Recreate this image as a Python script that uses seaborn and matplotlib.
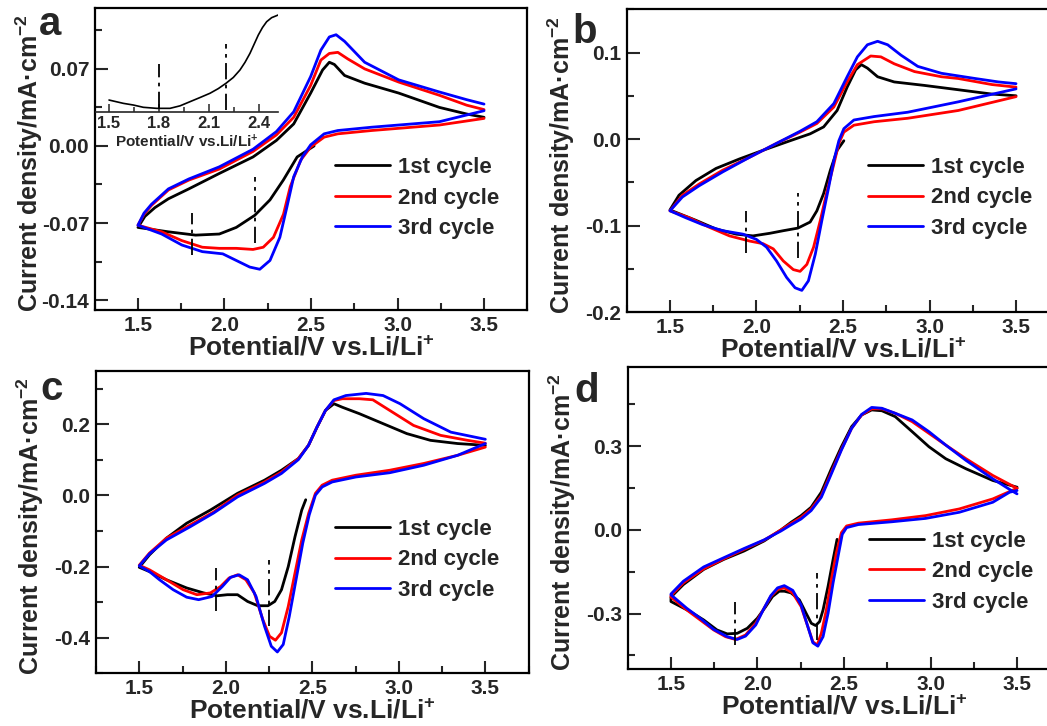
import matplotlib
matplotlib.use("Agg")
import matplotlib.pyplot as plt
import seaborn as sns
from matplotlib.ticker import MultipleLocator, FormatStrFormatter

# ---------------- data ----------------
cycle_labels = ["1st cycle", "2nd cycle", "3rd cycle"]
cycle_colors = ["#000000", "#ff0000", "#0000ff"]

# panel a
a_c1_v = [2.518, 2.42, 2.34, 2.263, 2.175, 2.068, 1.97, 1.833, 1.676, 1.5, 1.54, 1.598, 1.676, 1.794, 1.97, 2.165, 2.30, 2.40, 2.498, 2.567, 2.606, 2.635, 2.694, 2.81, 3.007, 3.242, 3.40, 3.5]
a_c1_i = [0.0, -0.010, -0.031, -0.049, -0.063, -0.074, -0.080, -0.081, -0.078, -0.074, -0.064, -0.056, -0.048, -0.039, -0.025, -0.010, 0.005, 0.020, 0.048, 0.069, 0.076, 0.074, 0.064, 0.057, 0.048, 0.035, 0.029, 0.026]
a_c2_v = [3.5, 3.242, 2.85, 2.655, 2.576, 2.498, 2.44, 2.38, 2.341, 2.283, 2.224, 2.165, 2.068, 1.97, 1.872, 1.754, 1.637, 1.5, 1.535, 1.578, 1.676, 1.794, 1.97, 2.165, 2.30, 2.40, 2.498, 2.557, 2.606, 2.655, 2.713, 2.81, 3.007, 3.242, 3.40, 3.5]
a_c2_i = [0.025, 0.019, 0.014, 0.011, 0.008, -0.001, -0.013, -0.037, -0.062, -0.083, -0.092, -0.094, -0.093, -0.093, -0.092, -0.086, -0.078, -0.072, -0.062, -0.054, -0.040, -0.031, -0.021, -0.005, 0.010, 0.026, 0.055, 0.078, 0.084, 0.085, 0.079, 0.070, 0.058, 0.046, 0.037, 0.033]
a_c3_v = [3.5, 3.242, 2.85, 2.655, 2.576, 2.498, 2.45, 2.40, 2.36, 2.32, 2.263, 2.204, 2.146, 2.068, 1.99, 1.872, 1.754, 1.637, 1.5, 1.535, 1.578, 1.676, 1.794, 1.97, 2.165, 2.30, 2.40, 2.498, 2.557, 2.606, 2.645, 2.694, 2.81, 3.007, 3.242, 3.40, 3.5]
a_c3_i = [0.032, 0.022, 0.017, 0.014, 0.011, 0.001, -0.010, -0.028, -0.056, -0.083, -0.104, -0.112, -0.110, -0.104, -0.098, -0.096, -0.090, -0.080, -0.072, -0.061, -0.053, -0.039, -0.030, -0.019, -0.003, 0.013, 0.031, 0.063, 0.087, 0.099, 0.101, 0.095, 0.076, 0.060, 0.049, 0.042, 0.038]
a_mark_v = [1.813, 2.175]
a_mark_lo = [-0.0995, -0.088]
a_mark_hi = [-0.061, -0.028]

# panel b
b_c1_v = [2.505, 2.466, 2.427, 2.388, 2.349, 2.31, 2.239, 2.155, 2.077, 1.98, 1.883, 1.766, 1.65, 1.5, 1.552, 1.65, 1.766, 1.902, 2.038, 2.194, 2.31, 2.388, 2.466, 2.524, 2.573, 2.606, 2.641, 2.70, 2.796, 2.97, 3.166, 3.36, 3.5]
b_c1_i = [-0.002, -0.013, -0.036, -0.063, -0.083, -0.096, -0.103, -0.106, -0.109, -0.112, -0.110, -0.104, -0.094, -0.082, -0.065, -0.048, -0.034, -0.023, -0.013, -0.002, 0.006, 0.014, 0.033, 0.060, 0.080, 0.086, 0.082, 0.072, 0.066, 0.062, 0.057, 0.052, 0.050]
b_c2_v = [3.5, 3.166, 2.874, 2.68, 2.563, 2.505, 2.476, 2.447, 2.408, 2.369, 2.33, 2.291, 2.252, 2.213, 2.155, 2.097, 2.038, 1.961, 1.844, 1.727, 1.611, 1.5, 1.572, 1.669, 1.805, 1.961, 2.116, 2.252, 2.349, 2.447, 2.524, 2.583, 2.66, 2.719, 2.796, 2.913, 3.069, 3.166, 3.36, 3.5]
b_c2_i = [0.049, 0.033, 0.024, 0.020, 0.016, 0.008, -0.005, -0.029, -0.060, -0.094, -0.125, -0.145, -0.153, -0.151, -0.141, -0.127, -0.121, -0.118, -0.112, -0.102, -0.091, -0.083, -0.065, -0.052, -0.036, -0.021, -0.005, 0.008, 0.018, 0.037, 0.066, 0.086, 0.096, 0.095, 0.087, 0.078, 0.072, 0.070, 0.063, 0.060]
b_c3_v = [3.5, 3.166, 2.874, 2.68, 2.563, 2.505, 2.476, 2.447, 2.417, 2.378, 2.34, 2.30, 2.262, 2.223, 2.174, 2.116, 2.058, 1.999, 1.922, 1.805, 1.689, 1.591, 1.5, 1.572, 1.669, 1.805, 1.961, 2.116, 2.252, 2.349, 2.447, 2.524, 2.583, 2.641, 2.70, 2.758, 2.835, 2.932, 3.069, 3.263, 3.399, 3.5]
b_c3_i = [0.058, 0.043, 0.031, 0.026, 0.022, 0.012, -0.002, -0.025, -0.056, -0.094, -0.133, -0.164, -0.175, -0.172, -0.160, -0.141, -0.125, -0.116, -0.110, -0.106, -0.099, -0.091, -0.083, -0.067, -0.054, -0.038, -0.021, -0.005, 0.009, 0.020, 0.041, 0.072, 0.095, 0.109, 0.113, 0.109, 0.097, 0.084, 0.076, 0.070, 0.066, 0.064]
b_mark_v = [1.941, 2.239]
b_mark_lo = [-0.132, -0.137]
b_mark_hi = [-0.083, -0.062]

# panel c
c_c1_v = [2.462, 2.439, 2.40, 2.361, 2.322, 2.283, 2.244, 2.185, 2.126, 2.068, 2.009, 1.95, 1.872, 1.774, 1.657, 1.559, 1.5, 1.559, 1.657, 1.774, 1.911, 2.068, 2.224, 2.322, 2.42, 2.478, 2.527, 2.576, 2.625, 2.674, 2.772, 2.909, 3.046, 3.183, 3.34, 3.5]
c_c1_i = [-0.012, -0.041, -0.116, -0.200, -0.265, -0.298, -0.310, -0.310, -0.298, -0.279, -0.279, -0.282, -0.274, -0.260, -0.237, -0.214, -0.202, -0.167, -0.120, -0.078, -0.041, 0.006, 0.043, 0.071, 0.104, 0.141, 0.192, 0.239, 0.258, 0.248, 0.230, 0.202, 0.174, 0.155, 0.146, 0.141]
c_c2_v = [3.5, 3.34, 3.144, 2.948, 2.752, 2.615, 2.557, 2.518, 2.479, 2.439, 2.40, 2.361, 2.322, 2.287, 2.253, 2.214, 2.165, 2.116, 2.068, 2.019, 1.97, 1.911, 1.833, 1.754, 1.657, 1.559, 1.5, 1.559, 1.657, 1.794, 1.931, 2.068, 2.224, 2.322, 2.42, 2.478, 2.527, 2.576, 2.625, 2.674, 2.772, 2.85, 2.948, 3.085, 3.242, 3.398, 3.5]
c_c2_i = [0.136, 0.113, 0.090, 0.071, 0.057, 0.043, 0.029, 0.006, -0.050, -0.125, -0.218, -0.312, -0.386, -0.407, -0.396, -0.349, -0.274, -0.237, -0.223, -0.232, -0.256, -0.274, -0.279, -0.265, -0.237, -0.209, -0.196, -0.162, -0.120, -0.083, -0.046, 0.001, 0.038, 0.066, 0.104, 0.141, 0.192, 0.239, 0.267, 0.272, 0.272, 0.269, 0.239, 0.197, 0.169, 0.155, 0.147]
c_c3_v = [3.5, 3.34, 3.144, 2.948, 2.752, 2.615, 2.557, 2.518, 2.482, 2.445, 2.406, 2.367, 2.332, 2.298, 2.263, 2.224, 2.175, 2.126, 2.077, 2.028, 1.98, 1.921, 1.843, 1.774, 1.696, 1.617, 1.559, 1.5, 1.559, 1.657, 1.794, 1.931, 2.068, 2.224, 2.322, 2.42, 2.478, 2.527, 2.576, 2.625, 2.694, 2.811, 2.909, 3.007, 3.144, 3.301, 3.5]
c_c3_i = [0.146, 0.113, 0.085, 0.064, 0.052, 0.038, 0.024, 0.001, -0.055, -0.134, -0.237, -0.340, -0.419, -0.440, -0.424, -0.368, -0.284, -0.237, -0.223, -0.230, -0.256, -0.284, -0.293, -0.286, -0.265, -0.237, -0.214, -0.198, -0.164, -0.125, -0.088, -0.049, -0.004, 0.034, 0.062, 0.101, 0.141, 0.192, 0.239, 0.269, 0.281, 0.287, 0.281, 0.258, 0.216, 0.178, 0.158]
c_mark_v = [1.944, 2.25]
c_mark_lo = [-0.326, -0.368]
c_mark_hi = [-0.204, -0.181]

# panel d
d_c1_v = [2.46, 2.437, 2.408, 2.379, 2.359, 2.336, 2.311, 2.281, 2.242, 2.194, 2.155, 2.126, 2.087, 2.048, 1.999, 1.941, 1.883, 1.825, 1.766, 1.689, 1.611, 1.5, 1.5, 1.572, 1.689, 1.805, 1.922, 2.038, 2.136, 2.194, 2.252, 2.31, 2.369, 2.427, 2.485, 2.544, 2.602, 2.66, 2.719, 2.796, 2.894, 2.991, 3.088, 3.205, 3.36, 3.5]
d_c1_i = [-0.034, -0.106, -0.202, -0.287, -0.329, -0.343, -0.335, -0.299, -0.251, -0.226, -0.220, -0.220, -0.239, -0.275, -0.317, -0.353, -0.371, -0.373, -0.359, -0.323, -0.293, -0.257, -0.241, -0.196, -0.142, -0.106, -0.076, -0.040, 0.000, 0.027, 0.051, 0.081, 0.135, 0.219, 0.298, 0.370, 0.412, 0.430, 0.427, 0.406, 0.352, 0.298, 0.255, 0.219, 0.177, 0.153]
d_c2_v = [3.5, 3.36, 3.166, 2.971, 2.777, 2.583, 2.515, 2.485, 2.456, 2.427, 2.398, 2.369, 2.345, 2.32, 2.291, 2.252, 2.204, 2.155, 2.116, 2.077, 2.038, 1.99, 1.931, 1.873, 1.815, 1.747, 1.669, 1.591, 1.5, 1.5, 1.572, 1.689, 1.805, 1.922, 2.038, 2.136, 2.194, 2.252, 2.31, 2.369, 2.427, 2.485, 2.544, 2.602, 2.66, 2.719, 2.796, 2.894, 2.991, 3.088, 3.205, 3.36, 3.5]
d_c2_i = [0.149, 0.111, 0.075, 0.051, 0.036, 0.024, 0.014, -0.010, -0.082, -0.178, -0.287, -0.371, -0.413, -0.401, -0.347, -0.275, -0.227, -0.208, -0.214, -0.239, -0.281, -0.335, -0.377, -0.393, -0.383, -0.359, -0.323, -0.287, -0.241, -0.236, -0.190, -0.140, -0.104, -0.070, -0.037, 0.000, 0.023, 0.045, 0.075, 0.123, 0.207, 0.289, 0.364, 0.412, 0.434, 0.434, 0.418, 0.388, 0.346, 0.304, 0.255, 0.195, 0.149]
d_c3_v = [3.5, 3.457, 3.36, 3.166, 2.971, 2.777, 2.583, 2.515, 2.49, 2.466, 2.437, 2.408, 2.379, 2.349, 2.32, 2.291, 2.252, 2.204, 2.155, 2.116, 2.077, 2.038, 1.99, 1.931, 1.883, 1.825, 1.747, 1.669, 1.591, 1.5, 1.5, 1.572, 1.689, 1.805, 1.922, 2.038, 2.136, 2.194, 2.252, 2.31, 2.369, 2.427, 2.485, 2.544, 2.602, 2.66, 2.719, 2.796, 2.894, 2.991, 3.088, 3.205, 3.36, 3.457, 3.5]
d_c3_i = [0.141, 0.135, 0.099, 0.063, 0.041, 0.029, 0.019, 0.008, -0.016, -0.094, -0.190, -0.299, -0.383, -0.417, -0.405, -0.347, -0.269, -0.217, -0.200, -0.208, -0.236, -0.281, -0.341, -0.381, -0.393, -0.383, -0.357, -0.317, -0.281, -0.233, -0.230, -0.184, -0.133, -0.100, -0.067, -0.036, -0.004, 0.018, 0.039, 0.069, 0.117, 0.201, 0.286, 0.364, 0.414, 0.439, 0.436, 0.418, 0.394, 0.352, 0.304, 0.249, 0.183, 0.145, 0.129]
d_mark_v = [1.869, 2.342]
d_mark_lo = [-0.413, -0.395]
d_mark_hi = [-0.260, -0.154]

# inset of panel a (relative current, no y scale shown)
ins_v = [1.5, 1.586, 1.646, 1.706, 1.786, 1.866, 1.926, 1.986, 2.046, 2.106, 2.156, 2.202, 2.246, 2.286, 2.316, 2.346, 2.371, 2.396, 2.421, 2.446, 2.476, 2.516]
ins_i = [0.118, 0.086, 0.07, 0.048, 0.038, 0.038, 0.062, 0.102, 0.142, 0.183, 0.228, 0.279, 0.335, 0.407, 0.480, 0.567, 0.655, 0.743, 0.815, 0.871, 0.910, 0.936]
ins_mark_v = [1.8, 2.2]
ins_mark_lo = [0.038, 0.022]
ins_mark_hi = [0.465, 0.654]

x_label = "Potential/V vs.Li/Li$^{+}$"
y_label = "Current density/mA\u00b7cm$^{-2}$"

# ---------------- style ----------------
sns.set_style("ticks")
plt.rcParams['font.family'] = ['Liberation Sans', 'DejaVu Sans']
plt.rcParams['font.weight'] = 'bold'
plt.rcParams['axes.labelweight'] = 'bold'
plt.rcParams['axes.unicode_minus'] = False
plt.rcParams['mathtext.fontset'] = 'custom'
plt.rcParams['mathtext.rm'] = 'Liberation Sans:bold'
plt.rcParams['mathtext.bf'] = 'Liberation Sans:bold'
plt.rcParams['mathtext.it'] = 'Liberation Sans:bold'
plt.rcParams['mathtext.default'] = 'rm'

W, H = 1047, 726
fig = plt.figure(figsize=(W / 100, H / 100), dpi=100)
AX_W = 432.6


def px_axes(left, top, right, bottom):
    return fig.add_axes([left / W, 1 - bottom / H, (right - left) / W, (bottom - top) / H])


DASHDOT = (0, (9, 3, 2, 3))


def panel(ax, cycles, ylim, major, minor, fmt, marks, leg_xy, letter, letter_xy):
    for (v, i), lab, col in zip(cycles, cycle_labels, cycle_colors):
        sns.lineplot(x=v, y=i, sort=False, estimator=None, color=col,
                     linewidth=2.0, ax=ax, label=lab)
    mv, mlo, mhi = marks
    ax.vlines(mv, mlo, mhi, colors="black", linewidth=1.3, linestyles=[DASHDOT])
    ax.set_xlim(1.25, 3.75)
    ax.set_ylim(*ylim)
    ax.xaxis.set_major_locator(MultipleLocator(0.5))
    ax.xaxis.set_minor_locator(MultipleLocator(0.25))
    ax.xaxis.set_major_formatter(FormatStrFormatter("%.1f"))
    ax.yaxis.set_major_locator(MultipleLocator(major))
    ax.yaxis.set_minor_locator(MultipleLocator(minor))
    ax.yaxis.set_major_formatter(FormatStrFormatter(fmt))
    ax.tick_params(which="major", direction="in", length=9, width=1.5,
                   labelsize=15, pad=4, top=False, right=False)
    ax.tick_params(which="minor", direction="in", length=5, width=1.5,
                   top=False, right=False)
    for s in ax.spines.values():
        s.set_linewidth(1.6)
        s.set_color("black")
    ax.set_xlabel(x_label, fontsize=19, labelpad=1)
    ax.set_ylabel(y_label, fontsize=18)
    ax.yaxis.set_label_coords(-50 / AX_W, 0.487)
    handles, labels = ax.get_legend_handles_labels()
    ax.legend(handles, labels, loc="center left", bbox_to_anchor=leg_xy,
              frameon=False, fontsize=16, handlelength=2.5, handletextpad=0.35,
              labelspacing=0.43, borderpad=0, borderaxespad=0)
    fig.text(letter_xy[0] / W, 1 - letter_xy[1] / H, letter, fontsize=29,
             fontweight="bold", va="baseline", ha="left")


ax_a = px_axes(94.7, 8.3, 527.3, 310)
ax_b = px_axes(626.7, 9.3, 626.7 + AX_W, 312)
ax_c = px_axes(96, 371, 96 + AX_W, 673.3)
ax_d = px_axes(627.7, 366.7, 627.7 + AX_W, 669.3)

panel(ax_a, [(a_c1_v, a_c1_i), (a_c2_v, a_c2_i), (a_c3_v, a_c3_i)],
      (-0.149, 0.125), 0.07, 0.035, "%.2f", (a_mark_v, a_mark_lo, a_mark_hi),
      (0.555, 0.371), "a", (39, 35))
panel(ax_b, [(b_c1_v, b_c1_i), (b_c2_v, b_c2_i), (b_c3_v, b_c3_i)],
      (-0.2, 0.15), 0.1, 0.05, "%.1f", (b_mark_v, b_mark_lo, b_mark_hi),
      (0.557, 0.377), "b", (572, 43))
panel(ax_c, [(c_c1_v, c_c1_i), (c_c2_v, c_c2_i), (c_c3_v, c_c3_i)],
      (-0.5, 0.35), 0.2, 0.1, "%.1f", (c_mark_v, c_mark_lo, c_mark_hi),
      (0.552, 0.375), "c", (40, 400))
panel(ax_d, [(d_c1_v, d_c1_i), (d_c2_v, d_c2_i), (d_c3_v, d_c3_i)],
      (-0.5, 0.585), 0.3, 0.15, "%.1f", (d_mark_v, d_mark_lo, d_mark_hi),
      (0.557, 0.323), "d", (574, 402))

# inset
ins = px_axes(95.7, 8.3, 278.3, 112.3)
ins.patch.set_alpha(0)
sns.lineplot(x=ins_v, y=ins_i, sort=False, estimator=None, color="black",
             linewidth=1.2, ax=ins)
ins.vlines(ins_mark_v, ins_mark_lo, ins_mark_hi, colors="black", linewidth=1.3,
           linestyles=[DASHDOT])
ins.set_xlim(1.42, 2.516)
ins.set_ylim(0, 1)
for side in ["left", "top", "right"]:
    ins.spines[side].set_visible(False)
ins.spines["bottom"].set_linewidth(1.2)
ins.set_yticks([])
ins.xaxis.set_minor_locator(MultipleLocator(0.15))
ins.xaxis.set_major_formatter(FormatStrFormatter("%.1f"))
ins.set_xticks([1.5, 1.8, 2.1, 2.4])
ins.tick_params(which="major", axis="x", direction="in", length=6, width=1.1,
                labelsize=12, pad=3)
ins.tick_params(which="minor", axis="x", direction="in", length=3.5, width=1.1)
ins.set_xlabel(x_label, fontsize=11, labelpad=1)
ins.set_ylabel("")

fig.savefig("out.png", dpi=100)
